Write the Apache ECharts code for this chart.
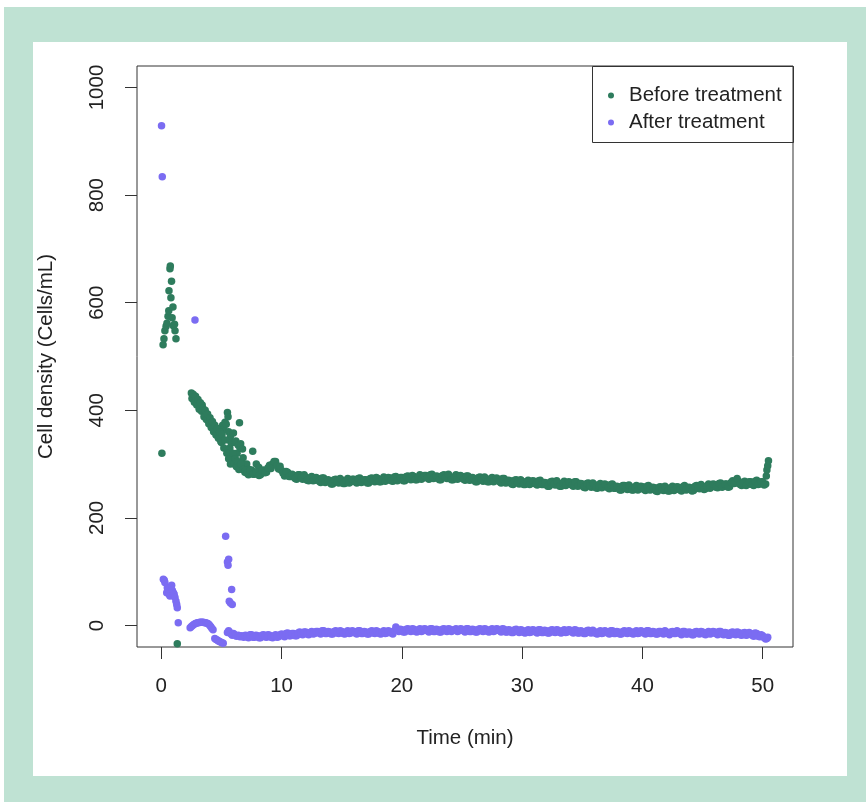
<!DOCTYPE html>
<html>
<head>
<meta charset="utf-8">
<script src="https://cdn.jsdelivr.net/npm/echarts@6/dist/echarts.min.js"></script>
<style>
  html, body { margin: 0; padding: 0; background: #fff; }
  #frame { position: absolute; left: 4px; top: 7px; width: 862px; height: 795px; background: #bfe2d3; }
  #panel { position: absolute; left: 33px; top: 42px; width: 814px; height: 734px; background: #fff; }
  #chart { position: absolute; left: 0; top: 0; width: 866px; height: 802px; }
</style>
</head>
<body>
<div id="frame"></div>
<div id="panel"></div>
<div id="chart"></div>
<script>
// 采样时间 (min)，平稳段
var timeMin = [
  7, 7.25, 7.5, 7.75, 8, 8.25, 8.5, 8.75, 9, 9.25, 9.5, 9.75,
  10, 10.25, 10.5, 10.75, 11, 11.25, 11.5, 11.75, 12, 12.25, 12.5, 12.75,
  13, 13.25, 13.5, 13.75, 14, 14.25, 14.5, 14.75, 15, 15.25, 15.5, 15.75,
  16, 16.25, 16.5, 16.75, 17, 17.25, 17.5, 17.75, 18, 18.25, 18.5, 18.75,
  19, 19.25, 19.5, 19.75, 20, 20.25, 20.5, 20.75, 21, 21.25, 21.5, 21.75,
  22, 22.25, 22.5, 22.75, 23, 23.25, 23.5, 23.75, 24, 24.25, 24.5, 24.75,
  25, 25.25, 25.5, 25.75, 26, 26.25, 26.5, 26.75, 27, 27.25, 27.5, 27.75,
  28, 28.25, 28.5, 28.75, 29, 29.25, 29.5, 29.75, 30, 30.25, 30.5, 30.75,
  31, 31.25, 31.5, 31.75, 32, 32.25, 32.5, 32.75, 33, 33.25, 33.5, 33.75,
  34, 34.25, 34.5, 34.75, 35, 35.25, 35.5, 35.75, 36, 36.25, 36.5, 36.75,
  37, 37.25, 37.5, 37.75, 38, 38.25, 38.5, 38.75, 39, 39.25, 39.5, 39.75,
  40, 40.25, 40.5, 40.75, 41, 41.25, 41.5, 41.75, 42, 42.25, 42.5, 42.75,
  43, 43.25, 43.5, 43.75, 44, 44.25, 44.5, 44.75, 45, 45.25, 45.5, 45.75,
  46, 46.25, 46.5, 46.75, 47, 47.25, 47.5, 47.75, 48, 48.25, 48.5, 48.75,
  49, 49.25, 49.5, 49.75, 50, 50.25
];

var beforeVals = [
  288, 280, 289, 281, 285, 280, 289, 285, 298, 300, 305, 291,
  288, 278, 285, 277, 279, 272, 280, 272, 276, 269, 277, 270,
  273, 266, 274, 267, 269, 263, 272, 265, 270, 264, 273, 267,
  272, 265, 274, 267, 271, 265, 274, 267, 273, 267, 276, 270,
  274, 268, 277, 271, 275, 269, 278, 271, 277, 271, 280, 274,
  279, 272, 281, 274, 277, 271, 280, 273, 277, 271, 280, 274,
  277, 270, 278, 271, 273, 267, 276, 268, 273, 267, 275, 269,
  272, 265, 273, 266, 269, 262, 271, 263, 268, 262, 270, 264,
  268, 261, 270, 262, 265, 259, 268, 261, 265, 259, 268, 262,
  266, 259, 267, 260, 263, 256, 265, 257, 262, 255, 264, 258,
  261, 254, 263, 255, 258, 252, 260, 253, 258, 252, 260, 254,
  258, 251, 260, 253, 256, 249, 258, 251, 256, 250, 259, 253,
  257, 250, 260, 253, 256, 251, 260, 254, 259, 254, 263, 258,
  262, 256, 265, 259, 263, 258, 269, 265, 268, 260, 268, 262,
  267, 260, 270, 263, 267, 263
];

var afterVals = [
  -18, -23, -17, -22, -19, -23, -17, -22, -18, -23, -17, -21,
  -16, -21, -14, -19, -15, -19, -12, -17, -12, -17, -11, -15,
  -11, -16, -10, -15, -12, -16, -10, -15, -11, -16, -10, -14,
  -11, -16, -10, -15, -12, -16, -10, -15, -11, -16, -10, -14,
  -11, -16, -3, -11, -8, -12, -6, -11, -7, -12, -6, -10,
  -7, -12, -6, -11, -8, -12, -6, -11, -7, -9, -6, -10,
  -7, -12, -6, -11, -8, -12, -6, -11, -7, -12, -6, -10,
  -7, -12, -7, -12, -9, -13, -7, -13, -9, -14, -8, -12,
  -9, -14, -8, -13, -10, -14, -8, -13, -9, -14, -8, -12,
  -9, -14, -9, -14, -11, -15, -9, -14, -11, -16, -10, -14,
  -11, -16, -10, -15, -12, -16, -10, -15, -11, -16, -10, -14,
  -11, -16, -10, -15, -12, -16, -11, -16, -12, -17, -11, -15,
  -12, -17, -11, -16, -13, -17, -11, -16, -12, -17, -11, -15,
  -12, -17, -11, -17, -14, -18, -12, -17, -13, -18, -13, -17,
  -15, -20, -15, -21, -19, -25
];

// 中间时刻的采样
var timeMid = [
  7.125, 7.375, 7.625, 7.875, 8.125, 8.375, 8.625, 8.875, 9.125, 9.375, 9.625, 9.875,
  10.125, 10.375, 10.625, 10.875, 11.125, 11.375, 11.625, 11.875, 12.125, 12.375, 12.625, 12.875,
  13.125, 13.375, 13.625, 13.875, 14.125, 14.375, 14.625, 14.875, 15.125, 15.375, 15.625, 15.875,
  16.125, 16.375, 16.625, 16.875, 17.125, 17.375, 17.625, 17.875, 18.125, 18.375, 18.625, 18.875,
  19.125, 19.375, 19.625, 19.875, 20.125, 20.375, 20.625, 20.875, 21.125, 21.375, 21.625, 21.875,
  22.125, 22.375, 22.625, 22.875, 23.125, 23.375, 23.625, 23.875, 24.125, 24.375, 24.625, 24.875,
  25.125, 25.375, 25.625, 25.875, 26.125, 26.375, 26.625, 26.875, 27.125, 27.375, 27.625, 27.875,
  28.125, 28.375, 28.625, 28.875, 29.125, 29.375, 29.625, 29.875, 30.125, 30.375, 30.625, 30.875,
  31.125, 31.375, 31.625, 31.875, 32.125, 32.375, 32.625, 32.875, 33.125, 33.375, 33.625, 33.875,
  34.125, 34.375, 34.625, 34.875, 35.125, 35.375, 35.625, 35.875, 36.125, 36.375, 36.625, 36.875,
  37.125, 37.375, 37.625, 37.875, 38.125, 38.375, 38.625, 38.875, 39.125, 39.375, 39.625, 39.875,
  40.125, 40.375, 40.625, 40.875, 41.125, 41.375, 41.625, 41.875, 42.125, 42.375, 42.625, 42.875,
  43.125, 43.375, 43.625, 43.875, 44.125, 44.375, 44.625, 44.875, 45.125, 45.375, 45.625, 45.875,
  46.125, 46.375, 46.625, 46.875, 47.125, 47.375, 47.625, 47.875, 48.125, 48.375, 48.625, 48.875,
  49.125, 49.375, 49.625, 49.875, 50.125
];

var beforeMid = [
  283, 288, 281, 285, 279, 288, 284, 293, 292, 305, 297, 296,
  283, 286, 277, 281, 273, 280, 275, 280, 270, 274, 269, 275,
  268, 274, 266, 271, 263, 271, 267, 273, 264, 269, 265, 272,
  267, 273, 266, 271, 265, 273, 269, 275, 267, 272, 268, 275,
  269, 276, 269, 275, 269, 277, 273, 279, 271, 276, 272, 279,
  274, 280, 273, 278, 271, 279, 275, 281, 271, 276, 272, 279,
  272, 278, 270, 275, 267, 275, 271, 276, 267, 272, 267, 274,
  267, 273, 265, 270, 263, 270, 266, 271, 262, 267, 262, 269,
  263, 269, 262, 266, 259, 267, 263, 269, 259, 264, 260, 267,
  261, 267, 259, 264, 257, 264, 260, 265, 256, 260, 256, 263,
  256, 262, 255, 259, 252, 260, 255, 261, 252, 257, 252, 259,
  253, 259, 252, 257, 250, 257, 253, 259, 250, 255, 251, 258,
  252, 258, 252, 257, 250, 259, 255, 262, 253, 259, 255, 263,
  257, 264, 257, 263, 257, 266, 264, 273, 262, 265, 260, 267,
  262, 268, 262, 267, 261
];

var afterMid = [
  -21, -17, -22, -18, -23, -18, -21, -17, -22, -19, -22, -17,
  -19, -15, -19, -15, -19, -14, -16, -12, -16, -13, -16, -11,
  -14, -10, -15, -11, -16, -11, -14, -10, -15, -12, -15, -10,
  -14, -10, -15, -11, -16, -11, -14, -10, -15, -12, -15, -10,
  -14, -10, -8, -7, -12, -7, -10, -6, -11, -8, -11, -6,
  -10, -6, -11, -7, -12, -7, -10, -6, -11, -8, -11, -6,
  -10, -6, -11, -7, -12, -7, -10, -6, -11, -8, -11, -6,
  -10, -6, -12, -8, -13, -8, -11, -8, -13, -10, -13, -8,
  -12, -8, -13, -9, -14, -9, -12, -8, -13, -10, -13, -8,
  -12, -8, -14, -10, -15, -10, -13, -9, -15, -12, -15, -10,
  -14, -10, -15, -11, -16, -11, -14, -10, -15, -12, -15, -10,
  -14, -10, -15, -11, -16, -11, -14, -10, -15, -12, -15, -10,
  -15, -11, -16, -12, -17, -12, -15, -11, -16, -13, -16, -11,
  -15, -11, -16, -13, -18, -13, -16, -12, -17, -14, -18, -13,
  -18, -14, -20, -17, -23
];

// 开头和结尾的散点 [时间, 密度]
var beforeExtra = [
  [0.05, 320],
  [0.15, 522], [0.22, 533], [0.3, 548], [0.4, 556], [0.47, 562], [0.56, 575],
  [0.62, 585], [0.64, 622], [0.72, 663], [0.75, 668], [0.8, 609], [0.85, 640],
  [0.9, 572], [0.97, 592], [1.0, 557], [1.1, 560], [1.14, 548], [1.22, 533],
  [1.33, -34],
  [2.5, 432], [2.6, 427], [2.7, 425], [2.8, 420], [2.9, 418], [3.0, 414],
  [3.1, 412], [3.2, 408], [3.3, 405], [3.4, 410], [3.5, 400], [3.6, 395],
  [3.7, 392], [3.8, 388], [3.9, 384], [4.0, 380], [4.1, 376], [4.2, 372],
  [4.3, 370], [4.4, 366], [4.5, 363], [4.6, 360], [4.7, 356], [4.8, 352],
  [4.9, 348], [5.0, 340], [5.1, 372], [5.2, 365], [5.3, 378], [5.4, 374],
  [2.55, 422], [2.65, 430], [2.75, 415], [2.85, 426], [2.95, 410], [3.05, 420],
  [3.15, 402], [3.25, 414], [3.35, 398], [3.45, 404], [3.55, 388], [3.65, 400],
  [3.75, 383], [3.85, 393], [3.95, 375], [4.05, 386], [4.15, 368], [4.25, 379],
  [4.35, 360], [4.45, 372], [4.55, 354], [4.65, 366], [4.75, 348], [4.85, 360],
  [4.95, 342], [5.05, 355],
  [5.5, 396], [5.55, 388], [5.6, 360], [5.65, 345], [5.7, 330], [5.75, 352],
  [5.8, 340], [5.85, 318], [5.9, 305], [6.0, 358], [6.1, 340], [6.2, 343],
  [6.3, 320], [6.4, 335], [6.5, 377], [6.55, 330], [6.6, 338], [6.7, 300],
  [6.75, 328], [6.8, 312], [6.9, 296], [7.1, 300], [7.3, 290], [7.6, 324],
  [7.9, 300], [8.1, 294],
  [5.2, 330], [5.3, 345], [5.45, 320], [5.6, 310], [5.75, 300], [5.95, 320],
  [6.05, 300], [6.15, 310], [6.25, 295], [6.35, 305], [6.45, 290], [6.6, 300],
  [6.8, 290], [6.95, 285],
  [50.3, 278], [50.35, 289], [50.42, 297], [50.48, 306]
];

var afterExtra = [
  [0.02, 929], [0.08, 834], [2.8, 568],
  [0.17, 86], [0.25, 84], [0.3, 80], [0.45, 61], [0.5, 70], [0.58, 67],
  [0.65, 58], [0.72, 55], [0.8, 72], [0.86, 75], [0.92, 65], [1.0, 61],
  [1.07, 58], [1.14, 52], [1.22, 45], [1.28, 39], [1.33, 33], [1.41, 5],
  [2.4, -4], [2.5, -2], [2.6, 0], [2.7, 2], [2.8, 3], [2.9, 4], [3.0, 5],
  [3.1, 5], [3.2, 6], [3.3, 6], [3.4, 6], [3.5, 6], [3.6, 5], [3.7, 5],
  [3.8, 4], [3.9, 3], [4.0, 1], [4.1, -2], [4.2, -5], [4.3, -8],
  [4.45, -24], [4.55, -26], [4.65, -27], [4.75, -29], [4.85, -30],
  [4.95, -31], [5.05, -32], [5.15, -33],
  [5.35, 166], [5.5, 118], [5.55, 112], [5.6, 123], [5.65, 45], [5.75, 42],
  [5.85, 67], [5.9, 39],
  [5.5, -13], [5.6, -10], [5.7, -13], [5.8, -16], [5.9, -18], [6.0, -15],
  [6.1, -17], [6.25, -20], [6.4, -18], [6.55, -21], [6.7, -19], [6.85, -22],
  [50.35, -24], [50.42, -22]
];

var xTicks = [0, 10, 20, 30, 40, 50];
var yTicks = [0, 200, 400, 600, 800, 1000];

var fontFam = 'Liberation Sans, Arial, sans-serif';
var txt = { fontSize: 20.5, color: '#222', fontFamily: fontFam };

function pairs(ts, vs) {
  var out = [];
  for (var i = 0; i < ts.length; i++) {
    out.push([ts[i], vs[i]]);
  }
  return out;
}

var chart = echarts.init(document.getElementById('chart'));

var option = {
  backgroundColor: 'transparent',
  animation: false,
  grid: {
    left: 137, right: 73, top: 66, bottom: 155,
    show: true,
    borderColor: '#333',
    borderWidth: 1,
    backgroundColor: 'transparent'
  },
  legend: {
    orient: 'vertical',
    left: 608,
    top: 85,
    padding: 0,
    itemGap: 6,
    itemWidth: 26,
    itemHeight: 6,
    icon: 'circle',
    textStyle: { fontSize: 20.5, color: '#222', fontFamily: fontFam, lineHeight: 20 },
    data: ['Before treatment', 'After treatment']
  },
  xAxis: {
    type: 'value',
    min: -2.02,
    max: 52.52,
    name: 'Time (min)',
    nameLocation: 'middle',
    nameGap: 81,
    nameTextStyle: txt,
    axisLine: { show: false, onZero: false },
    axisTick: { show: true, length: 12, customValues: xTicks, lineStyle: { color: '#333' } },
    axisLabel: {
      customValues: xTicks, margin: 29, fontSize: 20.5, color: '#222', fontFamily: fontFam,
      formatter: function (v) { return String(v); }
    },
    splitLine: { show: false }
  },
  yAxis: {
    type: 'value',
    min: -40,
    max: 1040,
    name: 'Cell density (Cells/mL)',
    nameLocation: 'middle',
    nameGap: 80,
    nameTextStyle: txt,
    axisLine: { show: false, onZero: false },
    axisTick: { show: true, length: 12, customValues: yTicks, lineStyle: { color: '#333' } },
    axisLabel: {
      customValues: yTicks, rotate: 90, margin: 29, fontSize: 20.5, color: '#222', fontFamily: fontFam,
      formatter: function (v) { return String(v); }
    },
    splitLine: { show: false }
  },
  graphic: [
    { type: 'rect', z: 100, shape: { x: 592.5, y: 66.5, width: 201, height: 76 },
      style: { fill: 'none', stroke: '#333', lineWidth: 1 } }
  ],
  series: [
    {
      name: 'Before treatment',
      type: 'scatter',
      symbolSize: 7.5,
      itemStyle: { color: '#2e7c5d', opacity: 1 },
      data: beforeExtra.concat(pairs(timeMin, beforeVals), pairs(timeMid, beforeMid))
    },
    {
      name: 'After treatment',
      type: 'scatter',
      symbolSize: 7.5,
      itemStyle: { color: '#7b6cf2', opacity: 1 },
      data: afterExtra.concat(pairs(timeMin, afterVals), pairs(timeMid, afterMid))
    }
  ]
};

chart.setOption(option);
</script>
</body>
</html>
